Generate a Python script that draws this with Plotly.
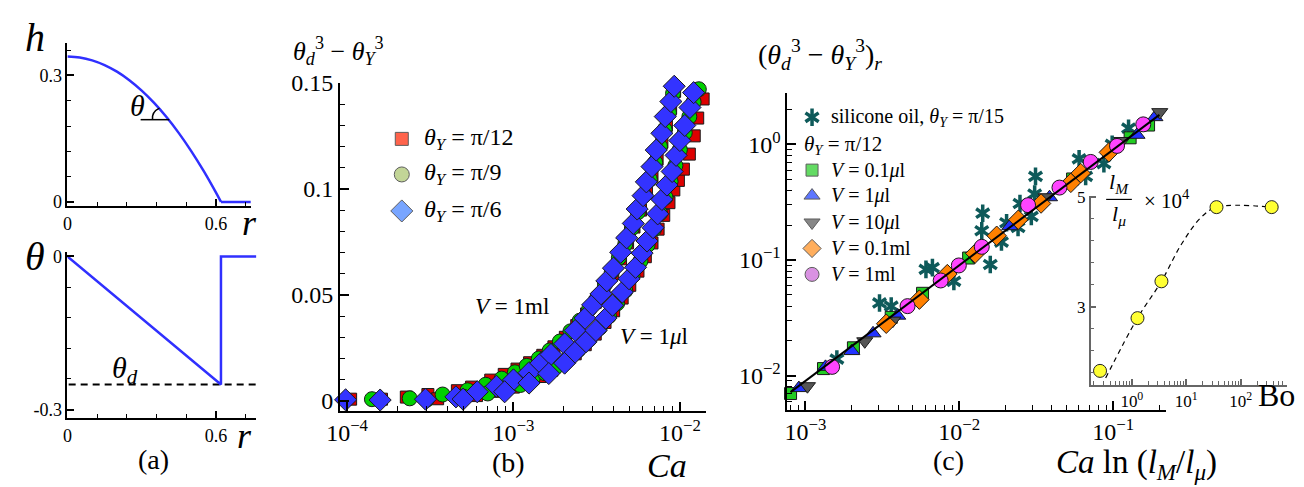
import plotly.graph_objects as go

W, H = 1304, 487
FONT = "Liberation Serif"

# ---------------- panel (a) data ----------------
r_h = [0, 0.05, 0.1, 0.15, 0.2, 0.25, 0.3, 0.35, 0.4, 0.45, 0.5, 0.55, 0.6, 0.62]
h_vals = [0.345, 0.3428, 0.336, 0.3248, 0.3091, 0.2889, 0.2642, 0.2350, 0.2014, 0.1633, 0.1206, 0.0735, 0.0219, 0.0]
r_flat = [0.62, 0.74]
h_flat = [0.0, 0.0]
r_theta = [0, 0.62, 0.62, 0.763]
theta_vals = [0, -0.251, 0, 0]
r_dash = [0.005, 0.763]
theta_d = [-0.251, -0.251]

# ---------------- panel (b) data ----------------
ca_r_1ml = [1.05e-4, 1.61e-4, 2.27e-4, 3.06e-4, 4.6e-4, 5.6e-4, 7.3e-4, 8.8e-4, 1.05e-3, 1.25e-3, 1.5e-3, 1.75e-3, 2.05e-3, 2.4e-3,
            2.75e-3, 3.1e-3, 3.5e-3, 3.95e-3, 4.4e-3, 4.85e-3, 5.3e-3, 5.8e-3, 6.3e-3, 6.8e-3, 7.3e-3, 7.8e-3, 8.3e-3, 8.8e-3, 9.3e-3]
y_r_1ml = [0.0008, 0.0008, 0.0018, 0.0030, 0.0048, 0.0065, 0.0098, 0.0125, 0.0150, 0.0180, 0.0215, 0.0255, 0.0300, 0.0355,
           0.0410, 0.0465, 0.0530, 0.0600, 0.0670, 0.0745, 0.0820, 0.0900, 0.0980, 0.1060, 0.1140, 0.1220, 0.1300, 0.1380, 0.1460]
ca_r_1ul = [3.5e-4, 6.0e-4, 8.0e-4, 1.0e-3, 1.2e-3, 1.45e-3, 1.7e-3, 2.0e-3, 2.35e-3, 2.7e-3, 3.1e-3, 3.55e-3, 4.0e-3, 4.5e-3,
            5.0e-3, 5.6e-3, 6.2e-3, 6.8e-3, 7.4e-3, 8.0e-3, 8.6e-3, 9.2e-3, 9.8e-3, 1.05e-2, 1.14e-2, 1.22e-2, 1.28e-2, 1.38e-2]
y_r_1ul = [0.0010, 0.0025, 0.0045, 0.0065, 0.0088, 0.0115, 0.0145, 0.0180, 0.0222, 0.0265, 0.0315, 0.0370, 0.0425, 0.0485,
           0.0545, 0.0612, 0.0680, 0.0745, 0.0810, 0.0875, 0.0935, 0.0995, 0.1040, 0.1093, 0.1164, 0.1250, 0.1334, 0.1424]
ca_g_1ml = [1.41e-4, 2.38e-4, 3.75e-4, 5.3e-4, 6.8e-4, 8.5e-4, 1.02e-3, 1.2e-3, 1.42e-3, 1.65e-3, 1.9e-3, 2.2e-3, 2.5e-3, 2.85e-3,
            3.2e-3, 3.55e-3, 3.9e-3, 4.3e-3, 4.7e-3, 5.15e-3, 5.6e-3, 6.1e-3, 6.6e-3, 7.1e-3, 7.6e-3, 8.1e-3, 8.6e-3, 9.1e-3]
y_g_1ml = [0.0008, 0.0012, 0.0030, 0.0050, 0.0076, 0.0105, 0.0135, 0.0165, 0.0200, 0.0238, 0.0280, 0.0328, 0.0378, 0.0432,
           0.0490, 0.0550, 0.0610, 0.0675, 0.0740, 0.0815, 0.0890, 0.0970, 0.1045, 0.1125, 0.1200, 0.1280, 0.1360, 0.1450]
ca_g_1ul = [3.0e-4, 5.0e-4, 7.0e-4, 9.0e-4, 1.1e-3, 1.3e-3, 1.55e-3, 1.8e-3, 2.1e-3, 2.45e-3, 2.85e-3, 3.3e-3, 3.75e-3, 4.2e-3,
            4.7e-3, 5.2e-3, 5.8e-3, 6.4e-3, 7.0e-3, 7.6e-3, 8.2e-3, 8.8e-3, 9.4e-3, 1.0e-2, 1.07e-2, 1.14e-2, 1.21e-2, 1.3e-2]
y_g_1ul = [0.0005, 0.0020, 0.0035, 0.0055, 0.0075, 0.0100, 0.0130, 0.0160, 0.0195, 0.0240, 0.0290, 0.0345, 0.0400, 0.0460,
           0.0520, 0.0590, 0.0660, 0.0735, 0.0810, 0.0885, 0.0960, 0.1035, 0.1110, 0.1185, 0.1265, 0.1340, 0.1410, 0.1470]
ca_d_1ml = [1.58e-4, 2.96e-4, 4.51e-4, 6.06e-4, 7.90e-4, 1.00e-3, 1.24e-3, 1.46e-3, 1.68e-3, 2.03e-3, 2.35e-3, 2.69e-3, 2.99e-3,
            3.36e-3, 3.64e-3, 3.99e-3, 4.41e-3, 4.79e-3, 5.25e-3, 5.54e-3, 6.01e-3, 6.29e-3, 6.80e-3, 7.21e-3, 7.80e-3, 8.17e-3, 8.83e-3, 9.25e-3]
y_d_1ml = [0.0004, 0.0008, 0.0019, 0.0043, 0.0069, 0.0099, 0.0133, 0.0178, 0.0219, 0.0269, 0.0332, 0.0390, 0.0453,
           0.0505, 0.0566, 0.0626, 0.0701, 0.0769, 0.0837, 0.0905, 0.0968, 0.1033, 0.1105, 0.1183, 0.1262, 0.1341, 0.1412, 0.1484]
ca_d_1ul = [9.8e-5, 4.98e-4, 8.85e-4, 1.24e-3, 1.63e-3, 2.03e-3, 2.35e-3, 2.73e-3, 3.13e-3, 3.59e-3, 3.94e-3, 4.51e-3, 4.95e-3,
            5.42e-3, 5.93e-3, 6.35e-3, 6.90e-3, 7.36e-3, 7.80e-3, 8.36e-3, 8.99e-3, 9.49e-3, 1.00e-2, 1.07e-2, 1.15e-2, 1.21e-2]
y_d_1ul = [0.0005, 0.0008, 0.0043, 0.0084, 0.0129, 0.0178, 0.0230, 0.0279, 0.0332, 0.0390, 0.0451, 0.0513, 0.0576,
           0.0630, 0.0697, 0.0754, 0.0817, 0.0882, 0.0950, 0.1018, 0.1082, 0.1158, 0.1228, 0.1299, 0.1384, 0.1454]
b_legend = ["<i>θ<sub>Y</sub></i> = π/12", "<i>θ<sub>Y</sub></i> = π/9", "<i>θ<sub>Y</sub></i> = π/6"]

# ---------------- panel (c) data ----------------
sq_x = [8.0e-4, 1.31e-3, 2.05e-3, 3.61e-3, 5.77e-3, 1.15e-2, 5.45e-2, 0.129, 0.170]
sq_y = [7.0e-3, 1.15e-2, 1.74e-2, 3.19e-2, 5.15e-2, 0.104, 0.502, 1.14, 1.47]
tu_x = [9.06e-4, 1.35e-3, 2.0e-3, 2.75e-3, 3.98e-3, 8.36e-3, 2.13e-2, 3.86e-2, 0.143, 0.187]
tu_y = [7.8e-3, 1.19e-2, 1.63e-2, 2.32e-2, 3.30e-2, 7.80e-2, 0.196, 0.349, 1.21, 1.72]
td_x = [1.03e-3, 2.43e-3, 3.70e-3, 1.24e-2, 3.67e-2, 0.114, 0.201]
td_y = [8.1e-3, 1.98e-2, 2.99e-2, 0.108, 0.349, 1.07, 1.90]
di_x = [3.35e-3, 5.50e-3, 8.36e-3, 1.27e-2, 1.75e-2, 2.42e-2, 3.40e-2, 5.31e-2, 6.16e-2, 9.38e-2]
di_y = [2.81e-2, 4.54e-2, 7.55e-2, 0.114, 0.162, 0.223, 0.308, 0.465, 0.564, 0.853]
ci_x = [1.49e-3, 4.61e-3, 7.57e-3, 9.93e-3, 1.40e-2, 2.80e-2, 4.48e-2, 7.15e-2, 0.106, 0.157]
ci_y = [1.19e-2, 3.99e-2, 6.65e-2, 8.97e-2, 0.130, 0.298, 0.423, 0.705, 0.970, 1.49]
st_x = [1.60e-3, 3.03e-3, 3.61e-3, 6.07e-3, 6.69e-3, 9.22e-3, 1.42e-2, 1.40e-2, 1.59e-2, 1.88e-2, 2.03e-2,
        2.41e-2, 2.48e-2, 2.94e-2, 3.13e-2, 3.09e-2, 6.01e-2, 6.63e-2, 8.71e-2, 9.86e-2, 0.126]
st_y = [1.39e-2, 4.25e-2, 3.99e-2, 8.30e-2, 8.59e-2, 6.53e-2, 0.254, 0.179, 9.14e-2, 0.143, 0.210,
        0.191, 0.308, 0.238, 0.529, 0.372, 0.750, 0.529, 0.682, 1.0, 1.38]
fit_x = [8.0e-4, 0.2]
fit_y = [7.2e-3, 1.8]
c_legend = ["<i>V</i> = 0.1<i>μ</i>l", "<i>V</i> = 1<i>μ</i>l", "<i>V</i> = 10<i>μ</i>l",
            "<i>V</i> = 0.1ml", "<i>V</i> = 1ml"]

# ---------------- inset data ----------------
bo = [0.26, 1.27, 3.5, 36, 372]
lm_lmu = [1.83, 2.79, 3.46, 4.81, 4.81]
bo_fit = [0.33, 1.27, 3.5, 8.1, 18.6, 36, 372]
lm_fit = [1.70, 2.79, 3.46, 4.13, 4.62, 4.81, 4.81]


def dom_x(a, b):
    return [a / W, b / W]


def dom_y(top, bottom):
    return [1 - bottom / H, 1 - top / H]


def log_minor(lo, hi):
    vals = []
    for k in range(lo, hi + 1):
        for m in range(2, 10):
            vals.append(m * 10.0 ** k)
    return vals


def pow_label(k):
    return "10<sup>" + ("−" if k < 0 else "") + str(abs(k)) + "</sup>"


fig = go.Figure()

# panel (a) traces
fig.add_trace(go.Scatter(x=r_h, y=h_vals, mode="lines", line=dict(color="#3030ff", width=2.5, shape="spline"),
                         xaxis="x", yaxis="y", cliponaxis=False))
fig.add_trace(go.Scatter(x=r_flat, y=h_flat, mode="lines", line=dict(color="#3030ff", width=2.5),
                         xaxis="x", yaxis="y", cliponaxis=False))
fig.add_trace(go.Scatter(x=r_dash, y=theta_d, mode="lines", line=dict(color="black", width=2, dash="7px,5px"),
                         xaxis="x2", yaxis="y2", cliponaxis=False))
fig.add_trace(go.Scatter(x=r_theta, y=theta_vals, mode="lines", line=dict(color="#3030ff", width=2.5),
                         xaxis="x2", yaxis="y2", cliponaxis=False))

# panel (b) traces
edge = dict(color="#1a1a1a", width=1)
for xs, ys in [(ca_r_1ml, y_r_1ml), (ca_r_1ul, y_r_1ul)]:
    fig.add_trace(go.Scatter(x=xs, y=ys, mode="markers", xaxis="x3", yaxis="y3", cliponaxis=False,
                             marker=dict(symbol="square", size=12, color="#dd0000", line=edge)))
for xs, ys in [(ca_g_1ml, y_g_1ml), (ca_g_1ul, y_g_1ul)]:
    fig.add_trace(go.Scatter(x=xs, y=ys, mode="markers", xaxis="x3", yaxis="y3", cliponaxis=False,
                             marker=dict(symbol="circle", size=15, color="#00d000", line=edge)))
for xs, ys in [(ca_d_1ml, y_d_1ml), (ca_d_1ul, y_d_1ul)]:
    fig.add_trace(go.Scatter(x=xs, y=ys, mode="markers", xaxis="x3", yaxis="y3", cliponaxis=False,
                             marker=dict(symbol="diamond", size=17, color="#3333ff", line=edge)))

# panel (c) traces
STAR = "#0e5a5a"
for sym in ["y-up-open", "y-down-open"]:
    fig.add_trace(go.Scatter(x=st_x, y=st_y, mode="markers", xaxis="x4", yaxis="y4", cliponaxis=False,
                             marker=dict(symbol=sym, size=11, color=STAR, line=dict(color=STAR, width=3.5))))
fig.add_trace(go.Scatter(x=sq_x, y=sq_y, mode="markers", xaxis="x4", yaxis="y4", cliponaxis=False,
                         marker=dict(symbol="square", size=12, color="#22cc22", line=edge)))
fig.add_trace(go.Scatter(x=tu_x, y=tu_y, mode="markers", xaxis="x4", yaxis="y4", cliponaxis=False,
                         marker=dict(symbol="triangle-up", size=14, color="#2233ff", line=edge)))
fig.add_trace(go.Scatter(x=td_x, y=td_y, mode="markers", xaxis="x4", yaxis="y4", cliponaxis=False,
                         marker=dict(symbol="triangle-down", size=14, color="#555555", line=edge)))
fig.add_trace(go.Scatter(x=di_x, y=di_y, mode="markers", xaxis="x4", yaxis="y4", cliponaxis=False,
                         marker=dict(symbol="diamond", size=15, color="#ff8000", line=edge)))
fig.add_trace(go.Scatter(x=ci_x, y=ci_y, mode="markers", xaxis="x4", yaxis="y4", cliponaxis=False,
                         marker=dict(symbol="circle", size=15, color="#ff44ff", line=edge)))
fig.add_trace(go.Scatter(x=fit_x, y=fit_y, mode="lines", xaxis="x4", yaxis="y4", cliponaxis=False,
                         line=dict(color="black", width=2)))

# inset traces
fig.add_trace(go.Scatter(x=bo_fit, y=lm_fit, mode="lines", xaxis="x5", yaxis="y5", cliponaxis=False,
                         line=dict(color="black", width=1.2, dash="5px,4px", shape="spline")))
fig.add_trace(go.Scatter(x=bo, y=lm_lmu, mode="markers", xaxis="x5", yaxis="y5", cliponaxis=False,
                         marker=dict(symbol="circle", size=13, color="#ffff33", line=dict(color="#222", width=1))))

# legend markers (pixel overlay axes)
fig.add_trace(go.Scatter(x=[392, 392, 392], y=[131, 168, 206], mode="markers", xaxis="x6", yaxis="y6",
                         marker=dict(symbol=["square", "circle", "diamond"], size=[13, 15, 17],
                                     color=["#ff2200", "#a9c46c", "#3f7fff"], line=edge)))
for sym in ["y-up-open", "y-down-open"]:
    fig.add_trace(go.Scatter(x=[806.7], y=[108.5], mode="markers", xaxis="x6", yaxis="y6",
                             marker=dict(symbol=sym, size=11, color=STAR, line=dict(color=STAR, width=3.5))))
fig.add_trace(go.Scatter(x=[806.7] * 5, y=[163.5, 190, 218, 245, 272], mode="markers", xaxis="x6", yaxis="y6",
                         marker=dict(symbol=["square", "triangle-up", "triangle-down", "diamond", "circle"],
                                     size=[12, 14, 14, 14, 14],
                                     color=["#22cc22", "#1a3dff", "#555555", "#ff8c1a", "#c964d6"], line=edge)))


def base_axis(**kw):
    d = dict(showline=True, linecolor="black", linewidth=1.5, ticks="inside", tickcolor="black", tickwidth=1.5,
             ticklen=7, showgrid=False, zeroline=False, mirror=False,
             tickfont=dict(family=FONT, size=18, color="black"))
    d.update(kw)
    return d


def minor_lin(dt, ln=4, t0=0):
    return dict(ticks="inside", dtick=dt, tick0=t0, ticklen=ln, tickcolor="black", tickwidth=1.2)


def minor_log(lo, hi, ln=5, col="black"):
    return dict(ticks="inside", tickmode="array", tickvals=log_minor(lo, hi), ticklen=ln, tickcolor=col,
                tickwidth=1.2)


big_tick = dict(family=FONT, size=24, color="black")
layout = dict(
    width=W, height=H, margin=dict(l=0, r=0, t=0, b=0), autosize=False, showlegend=False,
    paper_bgcolor="white", plot_bgcolor="rgba(0,0,0,0)",
    font=dict(family=FONT, color="black"),
    # (a) top
    xaxis=base_axis(domain=dom_x(54, 240), range=[0, 0.743], anchor="y", tickmode="array",
                    tickvals=[0, 0.6], ticktext=["0", "0.6"], minor=minor_lin(0.12)),
    yaxis=base_axis(domain=dom_y(31.7, 201), range=[-0.01, 0.376], anchor="x", tickmode="array",
                    tickvals=[0, 0.3], ticktext=["0", "0.3"], minor=minor_lin(0.06)),
    # (a) bottom
    xaxis2=base_axis(domain=dom_x(54, 245), range=[0, 0.763], anchor="y2", tickmode="array",
                     tickvals=[0, 0.6], ticktext=["0", "0.6"], minor=minor_lin(0.12)),
    yaxis2=base_axis(domain=dom_y(248.3, 421.7), range=[-0.317, 0.0094], anchor="x2", tickmode="array",
                     tickvals=[0, -0.3], ticktext=["0", "-0.3"], minor=minor_lin(0.06)),
    # (b)
    xaxis3=base_axis(domain=dom_x(329.3, 700), type="log", range=[-4.044, -1.84], anchor="y3", tickmode="array",
                     tickvals=[1e-4, 1e-3, 1e-2], ticktext=[pow_label(-4), pow_label(-3), pow_label(-2)],
                     ticklen=9, minor=minor_log(-5, -2), tickfont=big_tick),
    yaxis3=base_axis(domain=dom_y(72.7, 414), range=[-0.0047, 0.15], anchor="x3", tickmode="array",
                     tickvals=[0, 0.05, 0.1, 0.15], ticktext=["0", "0.05", "0.1", "0.15"], ticklen=9,
                     minor=minor_lin(0.01, 5), tickfont=big_tick),
    # (c)
    xaxis4=base_axis(domain=dom_x(781.7, 1165), type="log", range=[-3.118, -0.653], anchor="y4", tickmode="array",
                     tickvals=[1e-3, 1e-2, 1e-1], ticktext=[pow_label(-3), pow_label(-2), pow_label(-1)],
                     ticklen=9, minor=minor_log(-4, -1), tickfont=big_tick),
    yaxis4=base_axis(domain=dom_y(83.3, 412.7), type="log", range=[-2.294, 0.444], anchor="x4", tickmode="array",
                     tickvals=[1e-2, 1e-1, 1], ticktext=[pow_label(-2), pow_label(-1), pow_label(0)],
                     ticklen=9, minor=minor_log(-3, 0), tickfont=big_tick),
    # inset
    xaxis5=base_axis(domain=dom_x(1088.3, 1286.7), type="log", range=[-0.758, 2.85], anchor="y5", tickmode="array",
                     tickvals=[1, 10, 100], ticktext=[pow_label(0), pow_label(1), pow_label(2)],
                     linecolor="#666", tickcolor="#666", ticklen=6, minor=minor_log(-1, 2, 4, "#666"),
                     tickfont=dict(family=FONT, size=17, color="black")),
    yaxis5=base_axis(domain=dom_y(190, 386.7), range=[1.58, 5.02], anchor="x5", tickmode="array",
                     tickvals=[3, 5], ticktext=["3", "5"], linecolor="#666", tickcolor="#666", ticklen=6,
                     minor=dict(ticks="inside", dtick=0.4, tick0=0.2, ticklen=4, tickcolor="#666", tickwidth=1.2),
                     tickfont=dict(family=FONT, size=17, color="black")),
    # pixel overlay
    xaxis6=dict(domain=[0, 1], range=[0, W], visible=False, anchor="y6", fixedrange=True),
    yaxis6=dict(domain=[0, 1], range=[H, 0], visible=False, anchor="x6", fixedrange=True),
)
fig.update_layout(**layout)

annotations = []


def ann(x, y, text, size, xanchor="center", yanchor="middle"):
    annotations.append(dict(x=x, y=y, xref="x6", yref="y6", text=text, showarrow=False, xanchor=xanchor,
                            yanchor=yanchor, font=dict(family=FONT, size=size, color="black")))


# (a)
ann(21, 26, "<i>h</i>", 40)
ann(21, 253, "<i>θ</i>", 40)
ann(238, 219, "<i>r</i>", 36)
ann(233, 440, "<i>r</i>", 36)
ann(125, 96, "<i>θ</i>", 30)
ann(112, 371, "<i>θ<sub>d</sub></i>", 30)
ann(141, 465, "(a)", 28)
# (b)
ann(328, 40, "<i>θ</i><sub><i>d</i></sub><sup>3</sup> − <i>θ</i><sub><i>Y</i></sub><sup>3</sup>", 26)
for i, t in enumerate(b_legend):
    ann(412, [131, 168, 206][i], t, 24, xanchor="left")
ann(503, 305, "<i>V</i> = 1ml", 23)
ann(647, 337, "<i>V</i> = 1<i>μ</i>l", 23)
ann(660, 471, "<i>Ca</i>", 34)
ann(500, 468, "(b)", 28)
# (c)
ann(815, 43, "(<i>θ</i><sub><i>d</i></sub><sup>3</sup> − <i>θ</i><sub><i>Y</i></sub><sup>3</sup>)<sub><i>r</i></sub>", 28)
ann(824, 108.5, "silicone oil, <i>θ<sub>Y</sub></i> = π/15", 20, xanchor="left")
ann(797, 137, "<i>θ<sub>Y</sub></i> = π/12", 21, xanchor="left")
for i, t in enumerate(c_legend):
    ann(824, [163.5, 190, 218, 245, 272][i], t, 20, xanchor="left")
ann(1135, 470, "<i>Ca</i> ln (<i>l<sub>M</sub></i>/<i>l<sub>μ</sub></i>)", 33)
ann(945, 466, "(c)", 28)
# inset
ann(1117, 177, "<i>l<sub>M</sub></i>", 22)
ann(1117, 210, "<i>l<sub>μ</sub></i>", 22)
ann(1166, 194, "× 10<sup>4</sup>", 21)
ann(1276, 398, "Bo", 32)

shapes = [
    dict(type="line", xref="x6", yref="y6", x0=1104, x1=1130, y0=194, y1=194, line=dict(color="black", width=1.2)),
    dict(type="line", xref="x6", yref="y6", x0=128, x1=157, y0=111, y1=111, line=dict(color="black", width=1.5)),
    dict(type="path", xref="x6", yref="y6", path="M 140,111 Q 139,103 147,99", line=dict(color="black", width=1.5)),
]
fig.update_layout(annotations=annotations, shapes=shapes)

fig.write_html("out.html", config={"displayModeBar": False},
               post_script="document.body.style.margin='0';document.body.style.overflow='hidden';")
